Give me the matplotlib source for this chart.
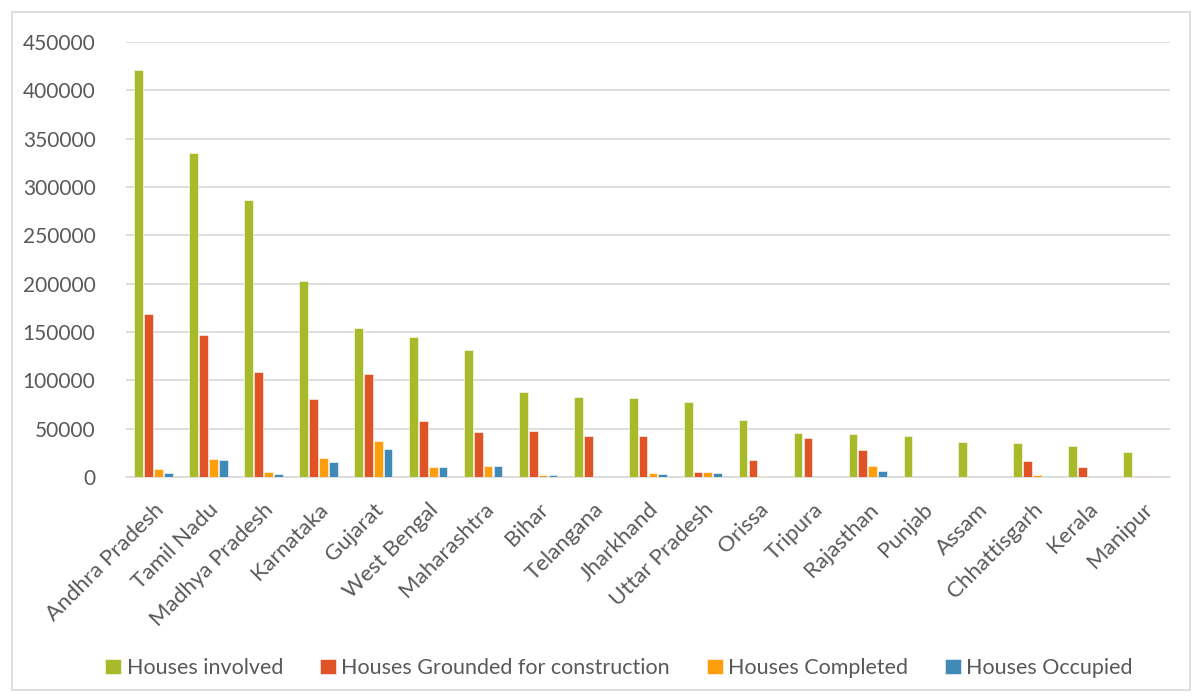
import matplotlib
matplotlib.use("Agg")
import matplotlib.pyplot as plt
import numpy as np
from matplotlib.patches import Rectangle

plt.rcParams['font.family'] = ['Lato', 'DejaVu Sans']

states = ["Andhra Pradesh", "Tamil Nadu", "Madhya Pradesh", "Karnataka", "Gujarat",
          "West Bengal", "Maharashtra", "Bihar", "Telangana", "Jharkhand",
          "Uttar Pradesh", "Orissa", "Tripura", "Rajasthan", "Punjab", "Assam",
          "Chhattisgarh", "Kerala", "Manipur"]
involved = [421000, 335000, 286500, 203000, 154000, 145000, 131000, 88300, 82800, 81400,
            78000, 59000, 45500, 44200, 42400, 36600, 34800, 32000, 26300]
grounded = [168500, 147000, 109000, 80400, 107000, 58300, 46200, 47600, 42800, 42800,
            4800, 18000, 40300, 28000, 500, 0, 16200, 10700, 800]
completed = [8600, 19000, 4900, 20000, 37000, 10700, 11000, 2000, 500, 3800,
             4800, 1500, 500, 11800, 300, 0, 1700, 300, 0]
occupied = [4400, 17200, 2800, 15200, 29000, 10700, 11000, 2000, 300, 2800,
            4600, 1000, 500, 6200, 300, 0, 1400, 300, 0]

series = [("Houses involved", involved, "#A8B92A"),
          ("Houses Grounded for construction", grounded, "#E05327"),
          ("Houses Completed", completed, "#FF9E0C"),
          ("Houses Occupied", occupied, "#3F8AB6")]

fig = plt.figure(figsize=(12.02, 6.99), dpi=100)
ax = fig.add_axes([126/1202, 1-477/699, (1170-126)/1202, (477-42)/699])

x = np.arange(len(states))
step = 0.18
w = 0.16
for i, (name, vals, col) in enumerate(series):
    ax.bar(x + (i-1.5)*step, vals, width=w, color=col, label=name,
           edgecolor='white', linewidth=0.4, zorder=3)

ax.set_xlim(-0.5, len(states)-0.5)
ax.set_ylim(0, 450000)
ax.set_yticks(np.arange(0, 450001, 50000))
ax.yaxis.grid(True, color='#D9D9D9', linewidth=1.2, zorder=0)
for s in ['top', 'right', 'left']:
    ax.spines[s].set_visible(False)
ax.spines['bottom'].set_color('#D9D9D9')
ax.spines['bottom'].set_linewidth(1.2)
ax.tick_params(axis='both', length=0, colors='#595959')
ax.tick_params(axis='y', pad=22, labelsize=15)
ax.set_xticks(x)
ax.set_xticklabels(states, rotation=45, ha='right', rotation_mode='anchor', fontsize=16)
ax.tick_params(axis='x', pad=16)

leg = fig.legend(loc='center', bbox_to_anchor=(0.515, 1-668/699), ncol=4,
                 frameon=False, fontsize=15.5, handlelength=0.75, handleheight=0.75,
                 handletextpad=0.25, columnspacing=1.7)
for t in leg.get_texts():
    t.set_color('#595959')

fig.patches.append(Rectangle((12/1202, 1-690/699), (1190-12)/1202, (690-12)/699,
                             transform=fig.transFigure, fill=False,
                             edgecolor='#D9D9D9', linewidth=1.2))

fig.savefig("out.png", dpi=100, facecolor='white')
